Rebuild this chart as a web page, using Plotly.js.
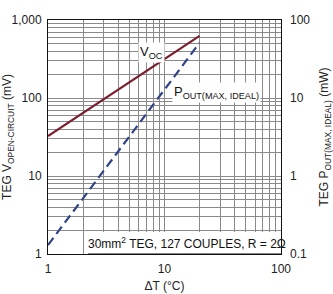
<!DOCTYPE html>
<html>
<head>
<meta charset="utf-8">
<script src="https://cdn.plot.ly/plotly-3.0.1.min.js"></script>
<style>html,body{margin:0;padding:0;background:#fff;}#chart{width:333px;height:294px;}</style>
</head>
<body>
<div id="chart"></div>
<script>
// Data
const deltaT = [1, 20];                 // ΔT (°C)
const vocValues = [32.5, 625];          // TEG V open-circuit (mV)
const poutValues = [0.13, 51];          // TEG P out (max, ideal) (mW)
const leftTickVals = [1, 10, 100, 1000];
const leftTickText = ["1", "10", "100", "1,000"];
const rightTickVals = [0.1, 1, 10, 100];
const rightTickText = ["0.1", "1", "10", "100"];
const xTickVals = [1, 10, 100];
const xTickText = ["1", "10", "100"];

const FONT = "Liberation Sans Narrow, Arial Narrow, Liberation Sans, Arial, sans-serif";

const traces = [
  {x: deltaT, y: vocValues, type: 'scatter', mode: 'lines', xaxis: 'x', yaxis: 'y',
   line: {color: '#7a1e2e', width: 2.2}, hoverinfo: 'skip'},
  {x: deltaT, y: poutValues, type: 'scatter', mode: 'lines', xaxis: 'x', yaxis: 'y2',
   line: {color: '#2e4486', width: 2.2, dash: '9px,5px'}, hoverinfo: 'skip'}
];

const gridCol = '#8a8a8a';
const layout = {
  width: 333, height: 294,
  margin: {l: 48, r: 52, t: 20, b: 40},
  paper_bgcolor: '#fff', plot_bgcolor: '#fff',
  showlegend: false,
  font: {family: FONT, size: 12, color: '#222'},
  xaxis: {type: 'log', range: [0, 2], tickvals: xTickVals, ticktext: xTickText,
    showgrid: true, gridcolor: gridCol, gridwidth: 1, ticks: '',
    minor: {showgrid: true, gridcolor: gridCol, gridwidth: 1, dtick: 'D1'},
    showline: true, linecolor: '#111', linewidth: 1, mirror: true, zeroline: false,
    tickfont: {size: 12}, ticklabelstandoff: 4,
    title: {text: 'ΔT (°C)', font: {size: 12}, standoff: 6}},
  yaxis: {type: 'log', range: [0, 3], tickvals: leftTickVals, ticktext: leftTickText,
    showgrid: true, gridcolor: gridCol, gridwidth: 1, ticks: '',
    minor: {showgrid: true, gridcolor: gridCol, gridwidth: 1, dtick: 'D1'},
    showline: true, linecolor: '#111', linewidth: 1, mirror: true, zeroline: false,
    tickfont: {size: 12}, ticklabelstandoff: 3,
    title: {text: 'TEG V<sub>OPEN-CIRCUIT</sub> (mV)', font: {size: 12}, standoff: 4}},
  yaxis2: {type: 'log', range: [-1, 2], overlaying: 'y', side: 'right',
    tickvals: rightTickVals, ticktext: rightTickText, showgrid: false, ticks: '',
    showline: false, zeroline: false, tickfont: {size: 12}, ticklabelstandoff: 8,
    title: {text: 'TEG P<sub>OUT(MAX, IDEAL)</sub> (mW)', font: {size: 12}, standoff: 10}},
  shapes: [
    {type: 'rect', xref: 'paper', yref: 'paper', x0: 0.172, x1: 1, y0: 0, y1: 0.094,
     fillcolor: '#fff', line: {width: 0}, layer: 'above'},
    {type: 'line', xref: 'paper', yref: 'paper', x0: 0.172, x1: 1, y0: 0, y1: 0,
     line: {color: '#111', width: 1}, layer: 'above'}
  ],
  annotations: [
    {xref: 'paper', yref: 'paper', x: 0.446, y: 0.859, text: 'V<sub>OC</sub>',
     showarrow: false, font: {size: 13, color: '#111'}, xanchor: 'center', yanchor: 'middle',
     bgcolor: '#fff'},
    {xref: 'paper', yref: 'paper', x: 0.533, y: 0.692, text: 'P<sub>OUT(MAX, IDEAL)</sub>',
     showarrow: false, font: {size: 13, color: '#111'}, xanchor: 'left', yanchor: 'middle',
     bgcolor: '#fff'},
    {xref: 'paper', yref: 'paper', x: 0.595, y: 0.048, text: '30mm<sup>2</sup> TEG, 127 COUPLES, R = 2Ω',
     showarrow: false, font: {size: 12, color: '#111'}, xanchor: 'center', yanchor: 'middle'}
  ]
};

Plotly.newPlot('chart', traces, layout, {staticPlot: true, displayModeBar: false});
</script>
</body>
</html>
